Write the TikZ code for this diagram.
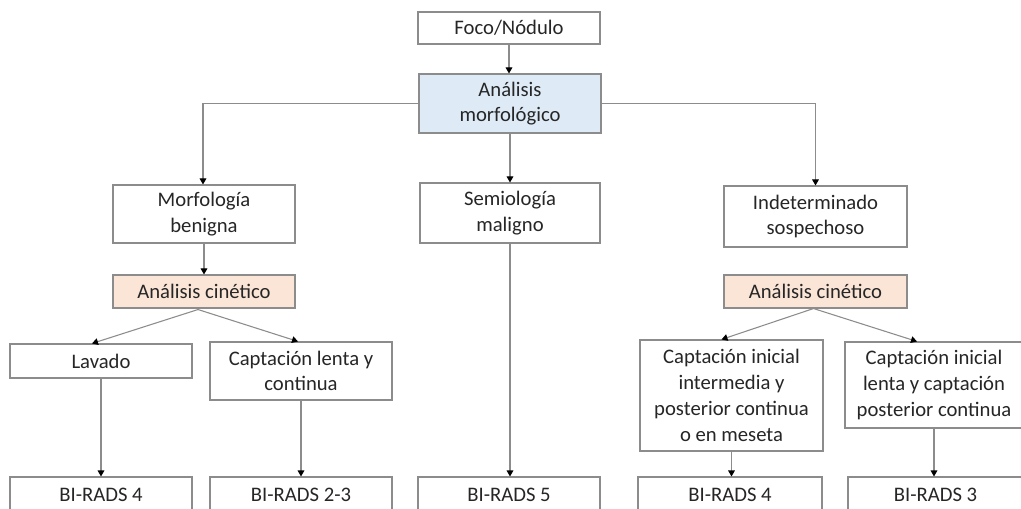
\documentclass[tikz,border=0pt]{standalone}
\usepackage{fontspec}
\setmainfont{Carlito}
\usetikzlibrary{arrows.meta,calc}
\definecolor{edgegray}{HTML}{8C8C8C}
\definecolor{inkgray}{HTML}{262626}
\definecolor{morfblue}{HTML}{DEEBF7}
\definecolor{cinorange}{HTML}{FBE5D6}
\begin{document}
\begin{tikzpicture}[x=0.75pt,y=-0.75pt,
  box/.style 2 args={draw=edgegray, line width=0.8pt, fill=white, inner sep=0pt,
    minimum width=#1*0.75pt, minimum height=#2*0.75pt, align=center,
    text=inkgray, font=\fontsize{15.5}{19.3}\selectfont},
  link/.style={draw=edgegray, line width=0.8pt,
    -{Triangle[width=5pt,length=4.5pt,color=black]}},
  plain/.style={draw=edgegray, line width=0.8pt}]
% page area
\fill[white] (0,0) rectangle (1021,509);
\useasboundingbox (0,0) rectangle (1021,509);

% top of the tree
\node[box={182}{32}] (foco) at (509,28) {Foco/Nódulo};
\node[box={182}{59}, fill=morfblue] (morf) at (510,103.5) {Análisis\\morfológico};

% three branches
\node[box={182}{58}] (benigna) at (204,214) {Morfología\\benigna};
\node[box={180}{60}] (maligno) at (510,213) {Semiología\\maligno};
\node[box={183}{61}] (indet) at (815.5,216.5) {Indeterminado\\sospechoso};

% kinetic analysis
\node[box={182}{33}, fill=cinorange] (cinA) at (204,291.5) {Análisis cinético};
\node[box={183}{33}, fill=cinorange] (cinB) at (815.5,291.5) {Análisis cinético};

% curve types
\node[box={182}{34}] (lavado) at (101,361) {Lavado};
\node[box={182}{58}] (lentaA) at (301,371) {Captación lenta y\\continua};
\node[box={183}{111}] (meseta) at (731.5,395.5) {Captación inicial\\intermedia y\\posterior continua\\o en meseta};
\node[box={178}{86}] (lentaB) at (934,385) {Captación inicial\\lenta y captación\\posterior continua};

% BI-RADS categories
\node[box={182}{36}] (br4a) at (101,495) {BI-RADS 4};
\node[box={182}{36}] (br23) at (301,495) {BI-RADS 2-3};
\node[box={182}{36}] (br5) at (509,495) {BI-RADS 5};
\node[box={184}{36}] (br4b) at (730,495) {BI-RADS 4};
\node[box={175}{36}] (br3) at (935.5,495) {BI-RADS 3};

% connectors
\draw[link] (foco.south) -- (foco.south |- morf.north);
\draw[link] (morf.west) -| ($(benigna.north)+(-1,0)$);
\draw[link] (morf.east) -| (indet.north);
\draw[link] (morf.south) -- (morf.south |- maligno.north);
\draw[link] (benigna.south) -- (cinA.north);

\coordinate (apexA) at ($(cinA.south)+(-6,1)$);
\draw[link] (apexA) -- ($(lavado.north)+(-9,0)$);
\draw[link] (apexA) -- ($(lentaA.north)+(-3,0)$);

\coordinate (apexB) at ($(cinB.south)+(-2,0)$);
\draw[link] (apexB) -- ($(meseta.north)+(-10,0)$);
\draw[link] (apexB) -- ($(lentaB.north)+(-17,0)$);

\draw[link] (lavado.south) -- (lavado.south |- br4a.north);
\draw[link] (lentaA.south) -- (lentaA.south |- br23.north);
\draw[link] (maligno.south) -- (maligno.south |- br5.north);
\draw[link] (meseta.south) -- (meseta.south |- br4b.north);
\draw[link] (lentaB.south) -- (lentaB.south |- br3.north);
\end{tikzpicture}
\end{document}
